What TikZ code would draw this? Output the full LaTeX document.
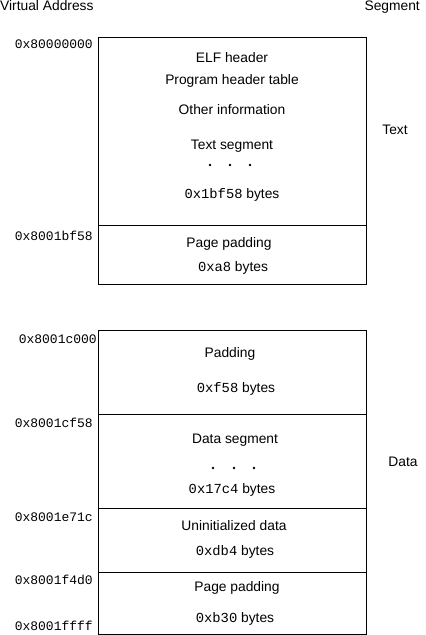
\documentclass[tikz,border=0pt]{standalone}
\usepackage{fontspec}
\setmainfont{Liberation Sans}
\setmonofont{Liberation Mono}
\begin{document}
\begin{tikzpicture}[x=1pt,y=-1pt,
  lbl/.style={inner sep=0pt,font=\fontsize{13.8}{15}\selectfont},
  addr/.style={inner sep=0pt,anchor=east,font=\fontsize{13}{15}\selectfont\ttfamily},
  seg/.style={draw,line width=0.8pt},
  dotmark/.style={circle,fill,inner sep=0pt,minimum size=2.8pt}]
\useasboundingbox (0,0) rectangle (426,635);
% boxes
\draw[seg] (98,37) rectangle (366,284);
\draw[seg] (98,225) -- (366,225);
\draw[seg] (98,330) rectangle (366,634);
\draw[seg] (98,414) -- (366,414);
\draw[seg] (98,508) -- (366,508);
\draw[seg] (98,572) -- (366,572);
% headers
\node[lbl,anchor=west] (va) at (0,6) {Virtual Address};
\node[lbl,anchor=east] (sg) at (420,7) {Segment};
\node[lbl] (tx) at (395,130) {Text};
\node[lbl] (dt) at (403,462) {Data};
% addresses
\node[addr] (a1) at (93,44) {0x80000000};
\node[addr] (a2) at (93,236) {0x8001bf58};
\node[addr] (a3) at (97,339) {0x8001c000};
\node[addr] (a4) at (93,423) {0x8001cf58};
\node[addr] (a5) at (93,517) {0x8001e71c};
\node[addr] (a6) at (93,580) {0x8001f4d0};
\node[addr] (a7) at (93,626) {0x8001ffff};
% text segment
\node[lbl] (elf) at (232,58) {ELF header};
\node[lbl] (pht) at (232,81) {Program header table};
\node[lbl] (oth) at (232,110) {Other information};
\node[lbl] (ts) at (232,146) {Text segment};
\node[dotmark] (d1) at (210,165) {};
\node[dotmark] (d2) at (230,165) {};
\node[dotmark] (d3) at (250,165) {};
\node[lbl] (tsb) at (232,195) {\ttfamily 0x1bf58\rmfamily{} bytes};
\node[lbl] (pp1) at (229,244) {Page padding};
\node[lbl] (pp1b) at (233,268) {\ttfamily 0xa8\rmfamily{} bytes};
% data segment
\node[lbl] (pad) at (230,354) {Padding};
\node[lbl] (padb) at (236,389) {\ttfamily 0xf58\rmfamily{} bytes};
\node[lbl] (ds) at (235,440) {Data segment};
\node[dotmark] (e1) at (213,468) {};
\node[dotmark] (e2) at (234,468) {};
\node[dotmark] (e3) at (254,468) {};
\node[lbl] (dsb) at (232,490) {\ttfamily 0x17c4\rmfamily{} bytes};
\node[lbl] (ud) at (234,526) {Uninitialized data};
\node[lbl] (udb) at (235,552) {\ttfamily 0xdb4\rmfamily{} bytes};
\node[lbl] (pp2) at (237,588) {Page padding};
\node[lbl] (pp2b) at (235,619) {\ttfamily 0xb30\rmfamily{} bytes};
\end{tikzpicture}
\end{document}
